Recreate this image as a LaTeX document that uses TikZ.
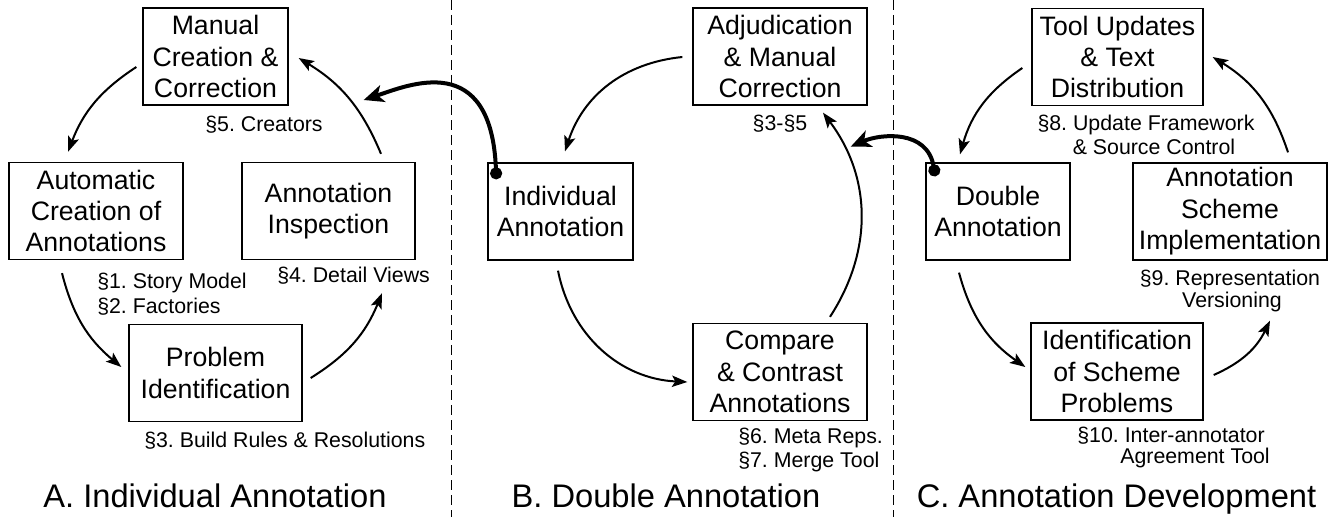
\documentclass[tikz,border=0pt]{standalone}
\usepackage{fontspec}
\setmainfont{Liberation Sans}
\usetikzlibrary{arrows.meta,calc}
\frenchspacing
\newcommand\bxfont{\fontsize{20}{23.6}\selectfont}
\newcommand\lbfont{\fontsize{16}{18}\selectfont}
\newcommand\tlfont{\fontsize{24.5}{28}\selectfont}
\tikzset{
  bx/.style={draw, line width=1pt, minimum height=72.75pt, inner sep=0pt, align=center, font=\bxfont},
  lbl/.style={inner sep=0pt, font=\lbfont},
  ttl/.style={inner sep=0pt, font=\tlfont, anchor=base},
  arr/.style={line width=1.5pt, -{Stealth[length=11.5pt,width=8.5pt,inset=2.5pt]}},
  thk/.style={line width=3pt, {Circle[length=9pt]}-{Stealth[length=15pt,width=13pt,inset=4pt]}},
  sepline/.style={line width=0.75pt, dash pattern=on 7.5pt off 3.75pt}
}
\begin{document}
\frenchspacing
\begin{tikzpicture}[x=0.75pt,y=0.75pt]
\useasboundingbox (0,0) rectangle (1335,-517);
% separators
\draw[sepline] (451,0) -- (451,-517);
\draw[sepline] (893,0) -- (893,-517);
% panel A
\node[bx, minimum width=108.75pt] (A1) at (215.5,-56.5) {Manual\\Creation \&\\Correction};
\node[bx, minimum width=130.5pt] (A2) at (96,-211) {Automatic\\Creation of\\Annotations};
\node[bx, minimum width=129.75pt] (A3) at (328.5,-211) {Annotation\\Inspection};
\node[bx, minimum width=129.75pt] (A4) at (215.5,-373) {Problem\\Identification};
% panel B
\node[bx, minimum width=130.5pt] (B1) at (780,-56.5) {Adjudication\\\& Manual\\Correction};
\node[bx, minimum width=108.75pt] (B2) at (560.5,-211.5) {Individual\\Annotation};
\node[bx, minimum width=130.5pt] (B3) at (780,-372) {Compare\\\& Contrast\\Annotations};
% panel C
\node[bx, minimum width=128.25pt] (C1) at (1117.5,-57) {Tool Updates\\\& Text\\Distribution};
\node[bx, minimum width=108pt] (C2) at (998,-211.5) {Double\\Annotation};
\node[bx, minimum width=145.5pt] (C3) at (1230,-211.5) {Annotation\\Scheme\\Implementation};
\node[bx, minimum width=129pt] (C4) at (1117,-371.5) {Identification\\of Scheme\\Problems};
% labels A
\node[lbl, anchor=base] (l5) at (264,-132) {§5. Creators};
\node[lbl, anchor=base west] (l1) at (97,-288) {§1. Story Model};
\node[lbl, anchor=base west] (l2) at (97,-313) {§2. Factories};
\node[lbl, anchor=base west] (l4) at (277,-282) {§4. Detail Views};
\node[lbl, anchor=base west] (l3) at (144,-447) {§3. Build Rules \& Resolutions};
% labels B
\node[lbl, anchor=base] (l35) at (780,-130) {§3-§5};
\node[lbl, anchor=base west] (l6) at (738,-443) {§6. Meta Reps.};
\node[lbl, anchor=base west] (l7) at (738,-467) {§7. Merge Tool};
% labels C
\node[lbl, anchor=base] (l8a) at (1146,-130) {§8. Update Framework};
\node[lbl, anchor=base] (l8b) at (1154,-154) {\& Source Control};
\node[lbl, anchor=base] (l9a) at (1230,-285) {§9. Representation};
\node[lbl, anchor=base] (l9b) at (1232,-307) {Versioning};
\node[lbl, anchor=base east] (l10a) at (1265,-442) {§10. Inter-annotator};
\node[lbl, anchor=base east] (l10b) at (1270,-463) {Agreement Tool};
% titles
\node[ttl] (tA) at (215,-507) {A. Individual Annotation};
\node[ttl] (tB) at (666,-507) {B. Double Annotation};
\node[ttl] (tC) at (1116.5,-507) {C. Annotation Development};
% arrows A
\draw[arr] ($(A1.west)+(-6,-10.5)$) to[bend right=18] ($(A2.north)+(-28,10)$);
\draw[arr] ($(A2.south)+(-34,-13)$) to[bend right=18] ($(A4.west)+(-7,6)$);
\draw[arr] ($(A4.east)+(8,-5)$) to[bend right=18] ($(A3.south)+(53.5,-33)$);
\draw[arr] ($(A3.north)+(52.5,8)$) to[bend right=18] ($(A1.east)+(10,-1.5)$);
% arrows B
\draw[arr] ($(B1.west)+(-10,-0.5)$) to[bend right=33] ($(B2.north)+(4.5,11)$);
\draw[arr] ($(B2.south)+(-2.5,-10)$) to[bend right=38] ($(B3.west)+(-5,-10)$);
\draw[arr] ($(B3.north)+(50,6)$) to[bend right=35] ($(B1.south)+(43,-7)$);
% arrows C
\draw[arr] ($(C1.west)+(-9,-11)$) to[bend right=20] ($(C2.north)+(-38,8)$);
\draw[arr] ($(C2.south)+(-39,-12)$) to[bend right=20] ($(C4.west)+(-5,4.5)$);
\draw[arr] ($(C4.east)+(10,-3.5)$) to[bend right=20] ($(C3.south)+(40,-60)$);
\draw[arr] ($(C3.north)+(58,10)$) to[bend right=20] ($(C1.east)+(9,0)$);
% thick links between panels
\draw[thk] ($(B2.north west)+(9,-17)$) .. controls +(-5,130) and +(45,15) .. ($(A1.east)+(75,-43.5)$);
\draw[thk] ($(C2.north west)+(10,-14)$) .. controls +(-8,47) and +(30,13) .. ($(B1.south east)+(-17,-41)$);
\end{tikzpicture}
\end{document}
